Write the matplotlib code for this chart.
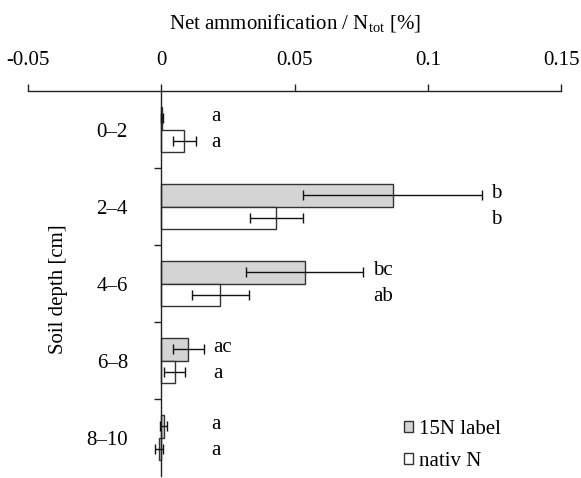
import matplotlib
matplotlib.use("Agg")
import matplotlib.pyplot as plt
from matplotlib.patches import Patch
import numpy as np

plt.rcParams['font.family'] = ['Liberation Serif', 'DejaVu Serif']
plt.rcParams['mathtext.fontset'] = 'custom'
plt.rcParams['mathtext.rm'] = 'Liberation Serif'
plt.rcParams['mathtext.it'] = 'Liberation Serif:italic'
plt.rcParams['font.size'] = 15

categories = ['0–2', '2–4', '4–6', '6–8', '8–10']
label15 = [0.0003, 0.0868, 0.0538, 0.0102, 0.0009]
label15_sd = [0.0003, 0.0335, 0.0220, 0.0058, 0.0012]
nativ = [0.0086, 0.0432, 0.0222, 0.0051, -0.0008]
nativ_sd = [0.0043, 0.0100, 0.0107, 0.0039, 0.0016]
letters15 = ['a', 'b', 'bc', 'ac', 'a']
lettersN = ['a', 'b', 'ab', 'a', 'a']
xticks = [-0.05, 0, 0.05, 0.1, 0.15]
xticklabels = ['-0.05', '0', '0.05', '0.1', '0.15']

fig = plt.figure(figsize=(5.81, 4.78), dpi=100)
ax = fig.add_axes([28/581, 2/478, (561-28)/581, (478-91-2)/478])

y = np.arange(len(categories))
h = 0.295
edge = '#333333'
ax.barh(y - h/2, label15, height=h, color='#d4d4d4', edgecolor=edge, linewidth=1.0, zorder=2)
ax.barh(y + h/2, nativ, height=h, color='white', edgecolor=edge, linewidth=1.0, zorder=2)
ax.errorbar(label15, y - h/2, xerr=label15_sd, fmt='none', ecolor='#111111', elinewidth=1.0,
            capsize=3.3, capthick=1.0, zorder=3)
ax.errorbar(nativ, y + h/2, xerr=nativ_sd, fmt='none', ecolor='#111111', elinewidth=1.0,
            capsize=3.3, capthick=1.0, zorder=3)

for i in range(len(categories)):
    xe = max(label15[i] + label15_sd[i], nativ[i] + nativ_sd[i]) + 0.0036
    xe = max(xe, 0.0187)
    ax.text(xe, y[i] - h/2 - 0.02, letters15[i], ha='left', va='center', fontsize=15)
    ax.text(xe, y[i] + h/2 + 0.02, lettersN[i], ha='left', va='center', fontsize=15)

ax.set_xlim(-0.05, 0.15)
ax.set_ylim(len(categories) - 0.5, -0.5)

ax.spines['right'].set_visible(False)
ax.spines['bottom'].set_visible(False)
ax.spines['left'].set_position(('data', 0))
for s in ('top', 'left'):
    ax.spines[s].set_linewidth(1.0)
    ax.spines[s].set_color('#222222')

ax.xaxis.tick_top()
ax.set_xticks(xticks)
ax.set_xticklabels(xticklabels)
ax.tick_params(axis='x', direction='out', length=5, width=1.0, pad=10, labelsize=15, color='#222222')
ax.xaxis.set_label_position('top')
ax.set_xlabel('Net ammonification / N$_\\mathrm{tot}$ [%]', fontsize=15, labelpad=16)

ax.set_yticks(y)
ax.set_yticklabels(categories)
ax.set_yticks(np.arange(len(categories) - 1) + 0.5, minor=True)
ax.tick_params(axis='y', which='major', length=0, pad=24, labelsize=15)
ax.tick_params(axis='y', which='minor', direction='out', length=5, width=1.0, color='#222222')
ax.set_ylabel('Soil depth [cm]', fontsize=15)
ax.yaxis.set_label_coords(0.075, 0.485)

handles = [Patch(facecolor='#d4d4d4', edgecolor=edge, linewidth=1.0),
           Patch(facecolor='white', edgecolor=edge, linewidth=1.0)]
fig.legend(handles, ['15N label', 'nativ N'], loc='upper left',
           bbox_to_anchor=(404/581, 1 - 420/478), frameon=False, fontsize=15,
           handlelength=0.42, handleheight=0.42, handletextpad=0.3, labelspacing=0.62,
           borderpad=0, borderaxespad=0)

fig.savefig('out.png', dpi=100)
